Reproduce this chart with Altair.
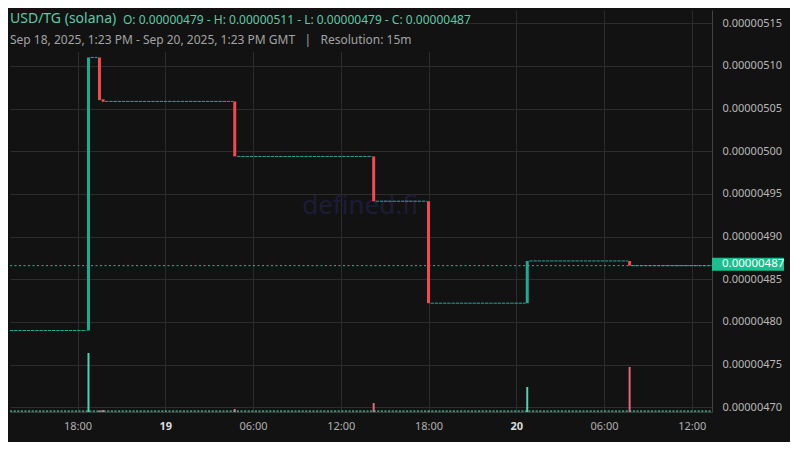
import altair as alt
import pandas as pd

# ---- data ----
DOMAIN_START = "2025-09-18T13:23:00Z"
DOMAIN_END = "2025-09-20T13:23:00Z"

candle_time = ["2025-09-18T18:45:00Z", "2025-09-18T19:30:00Z", "2025-09-18T19:45:00Z",
               "2025-09-19T04:45:00Z", "2025-09-19T14:15:00Z", "2025-09-19T18:00:00Z",
               "2025-09-20T00:45:00Z", "2025-09-20T07:45:00Z"]
candle_open = [4.790e-6, 5.110e-6, 5.061e-6, 5.0585e-6, 4.994e-6, 4.9415e-6, 4.822e-6, 4.8715e-6]
candle_close = [5.110e-6, 5.060e-6, 5.058e-6, 4.994e-6, 4.9415e-6, 4.822e-6, 4.8715e-6, 4.866e-6]
candle_volume = [5900, 150, 200, 300, 900, 50, 2500, 4500]

flat_start = ["2025-09-18T13:23:00Z", "2025-09-18T18:53:00Z", "2025-09-18T19:53:00Z",
              "2025-09-19T04:55:00Z", "2025-09-19T14:23:00Z", "2025-09-19T18:08:00Z",
              "2025-09-20T00:53:00Z", "2025-09-20T07:53:00Z"]
flat_end = ["2025-09-18T18:37:00Z", "2025-09-18T19:22:00Z", "2025-09-19T04:38:00Z",
            "2025-09-19T14:08:00Z", "2025-09-19T17:53:00Z", "2025-09-20T00:38:00Z",
            "2025-09-20T07:38:00Z", "2025-09-20T13:23:00Z"]
flat_price = [4.790e-6, 5.110e-6, 5.0585e-6, 4.994e-6, 4.9415e-6, 4.822e-6, 4.8715e-6, 4.866e-6]

last_price = 4.866e-6
price_ticks = [4.70e-6, 4.75e-6, 4.80e-6, 4.85e-6, 4.90e-6, 4.95e-6,
               5.00e-6, 5.05e-6, 5.10e-6, 5.15e-6]
time_ticks = ["2025-09-18T18:00:00Z", "2025-09-19T00:00:00Z", "2025-09-19T06:00:00Z",
              "2025-09-19T12:00:00Z", "2025-09-19T18:00:00Z", "2025-09-20T00:00:00Z",
              "2025-09-20T06:00:00Z", "2025-09-20T12:00:00Z"]

NB = "\u00a0"
title_pair = "USD/TG (solana)"
title_ohlc = "O: 0.00000479 - H: 0.00000511 - L: 0.00000479 - C: 0.00000487"
subtitle = "Sep 18, 2025, 1:23 PM - Sep 20, 2025, 1:23 PM GMT" + NB * 3 + "|" + NB * 3 + "Resolution: 15m"
watermark = "defined.fi"

# ---- styling ----
BG = "#121212"
GRID = "#2c2c2c"
GREEN = "#21aa92"
RED = "#f04a52"
VGREEN = "#55cfae"
VRED = "#e2677a"
FONT = "Noto Sans"

candles = pd.DataFrame({
    "t": candle_time, "open": candle_open, "close": candle_close, "vol": candle_volume,
})
candles["dir"] = ["up" if c >= o else "down" for o, c in zip(candle_open, candle_close)]
flats = pd.DataFrame({"s": flat_start, "e": flat_end, "p": flat_price})
one = pd.DataFrame({"p": [last_price]})


def dt(s):
    d = pd.Timestamp(s)
    return alt.DateTime(year=d.year, month=d.month, date=d.day, hours=d.hour,
                        minutes=d.minute, utc=True)


xscale = alt.Scale(type="utc", domain=[dt(DOMAIN_START), dt(DOMAIN_END)])
yscale = alt.Scale(domain=[4.6945e-6, 5.1656e-6], zero=False, nice=False)

xaxis = alt.Axis(
    values=[dt(v) for v in time_ticks],
    labelExpr="utchours(datum.value) == 0 ? utcFormat(datum.value, '%-d') : utcFormat(datum.value, '%H:%M')",
    labelFontWeight=alt.condition("utchours(datum.value) == 0", alt.value("bold"), alt.value("normal")),
    labelColor=alt.condition("utchours(datum.value) == 0", alt.value("#dddddd"), alt.value("#b0b0b0")),
    grid=True, gridColor=GRID, ticks=False, domain=True, domainColor="#3a3a3a",
    labelPadding=8, labelFontSize=11, labelFont=FONT, title=None,
)
yaxis = alt.Axis(
    orient="right", values=price_ticks, format=".8f", grid=True, gridColor=GRID,
    ticks=False, domain=True, domainColor="#444444", labelPadding=10,
    labelFontSize=11, labelFont=FONT, labelColor="#b8b8b8", title=None,
)

base_x = alt.X("t:T", scale=xscale, axis=xaxis)

header_bg = alt.Chart(one).mark_rect(color=BG).encode(
    x=alt.value(0), x2=alt.value(442), y=alt.value(0), y2=alt.value(42))

wm = alt.Chart(one).mark_text(fontSize=26, font=FONT, color="#1d1c36", align="center",
                              baseline="middle").encode(
    x=alt.value(350), y=alt.value(196), text=alt.value(watermark))

flat_layer = alt.Chart(flats).mark_rule(color="#26a69a", opacity=1, strokeWidth=1,
                                        strokeDash=[3.4, 0.8]).encode(
    x=alt.X("s:T", scale=xscale, axis=xaxis), x2="e:T",
    y=alt.Y("p:Q", scale=yscale, axis=yaxis))

cur_line = alt.Chart(one).mark_rule(color="#1ec194", strokeWidth=1, strokeDash=[2, 2.5]).encode(
    x=alt.value(0), x2=alt.value(702), y=alt.Y("p:Q", scale=yscale, axis=yaxis))

candle_layer = alt.Chart(candles).mark_rule(strokeWidth=3).encode(
    x=base_x,
    y=alt.Y("open:Q", scale=yscale, axis=yaxis), y2="close:Q",
    color=alt.Color("dir:N", scale=alt.Scale(domain=["up", "down"], range=[GREEN, RED]),
                    legend=None))

price_box = alt.Chart(one).mark_rect(color="#19bf8e", yOffset=-8, y2Offset=5, clip=False).encode(
    x=alt.value(702), x2=alt.value(774),
    y=alt.Y("p:Q", scale=yscale, axis=yaxis), y2="p:Q")
price_txt = alt.Chart(one).mark_text(align="left", baseline="middle", fontSize=11.5, font=FONT,
                                     color="#ffffff", dy=-1.5).encode(
    x=alt.value(712), y=alt.Y("p:Q", scale=yscale, axis=yaxis),
    text=alt.Text("p:Q", format=".8f"))

t1 = alt.Chart(one).mark_text(align="left", baseline="middle", fontSize=14, font=FONT,
                              color="#5cc9a7").encode(
    x=alt.value(0), y=alt.value(9), text=alt.value(title_pair))
t2 = alt.Chart(one).mark_text(align="left", baseline="middle", fontSize=12, font=FONT,
                              color="#5cc9a7").encode(
    x=alt.value(113), y=alt.value(10), text=alt.value(title_ohlc))
t3 = alt.Chart(one).mark_text(align="left", baseline="middle", fontSize=12, font=FONT,
                              color="#a3a3a3").encode(
    x=alt.value(0), y=alt.value(30), text=alt.value(subtitle))

vscale = alt.Scale(domain=[0, 40200], nice=False)
vol_bars = alt.Chart(candles).mark_rule(strokeWidth=2).encode(
    x=base_x,
    y=alt.Y("vol:Q", scale=vscale, axis=None), y2=alt.datum(0),
    color=alt.Color("dir:N", scale=alt.Scale(domain=["up", "down"], range=[VGREEN, VRED]),
                    legend=None))
vol_base = alt.Chart(one).mark_rule(color=VGREEN, strokeWidth=1.2, strokeDash=[2.2, 1.4],
                                    opacity=0.9).encode(
    x=alt.value(0), x2=alt.value(702), y=alt.datum(80, scale=vscale))

price = alt.layer(wm, flat_layer, cur_line, candle_layer, header_bg, t1, t2, t3,
                  price_box, price_txt)
vol = alt.layer(vol_bars, vol_base)

chart = alt.layer(price, vol).resolve_scale(y="independent", color="independent").properties(
    width=702, height=402, background=BG,
    padding={"left": 2, "top": 2, "right": 78, "bottom": 30},
    autosize=alt.AutoSizeParams(type="none"),
).configure_view(stroke=None, fill=BG)

chart.save("out.html", embed_options={"renderer": "svg", "actions": False})
